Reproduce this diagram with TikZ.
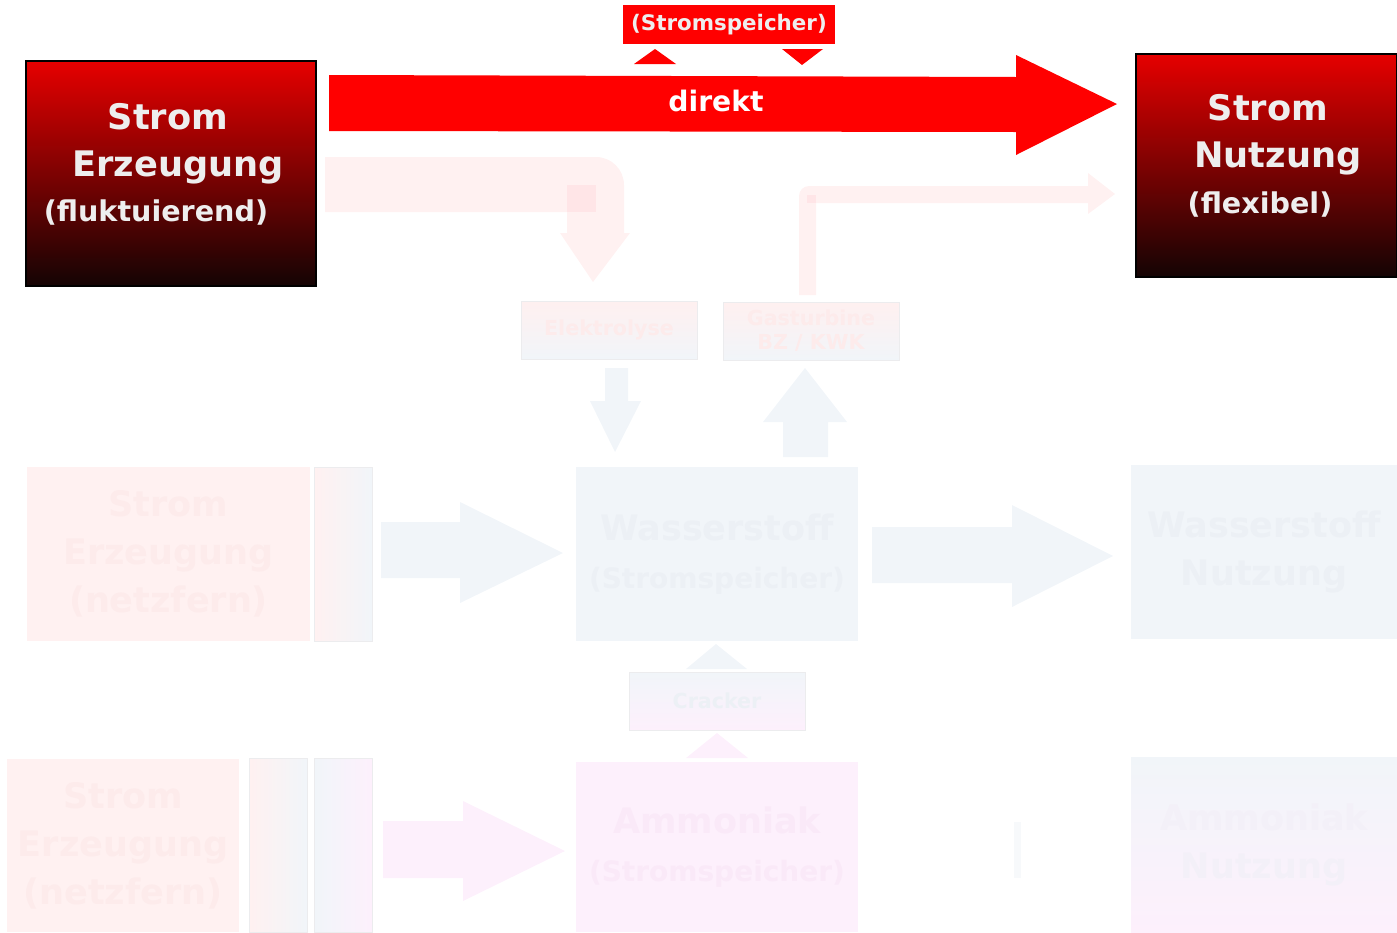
\documentclass[tikz,border=0pt]{standalone}
\usepackage{fontspec}
\setmainfont{DejaVu Sans}
\usetikzlibrary{positioning}

\definecolor{hot}{HTML}{E60000}
\definecolor{coal}{HTML}{140404}
\definecolor{txtgray}{HTML}{EEEEEE}
\definecolor{fpink}{HTML}{FFF1F1}
\definecolor{fpinkdk}{HTML}{FFE5E7}
\definecolor{fblue}{HTML}{F1F5F9}
\definecolor{fmag}{HTML}{FDF0FC}
\definecolor{fline}{HTML}{ECECEE}
\definecolor{tpink}{HTML}{FDEBEB}
\definecolor{tblue}{HTML}{ECF0F5}
\definecolor{tmag}{HTML}{FAE9F8}

\newcommand\fparen[1]{{\fontsize{14}{24}\selectfont #1}}

\begin{document}
\begin{tikzpicture}[x=0.5pt,y=-0.5pt,
  genbox/.style={draw=black,line width=0.6pt,top color=hot,bottom color=coal,inner sep=0pt},
  bigtxt/.style={text=txtgray,font=\bfseries\fontsize{17.6}{20}\selectfont},
  midtxt/.style={text=txtgray,font=\bfseries\fontsize{14.3}{16}\selectfont},
  fbox/.style={inner sep=0pt,font=\bfseries\fontsize{17.5}{24}\selectfont,align=center},
  fsmall/.style={draw=fline,line width=0.4pt,inner sep=0pt,minimum width=88pt,minimum height=29pt,
    font=\bfseries\fontsize{10.3}{12}\selectfont,align=center},
  fnarrow/.style={draw=fline,line width=0.4pt,inner sep=0pt,minimum width=29pt,minimum height=87pt}]
  \useasboundingbox (0,0) rectangle (1397,932);

  % faded part (later build steps)
  \fill[fpink] (325,157) [rounded corners=14pt] -- (624,157) [sharp corners] -- (624,233) -- (630,233)
    -- (593,282) -- (560,233) -- (567,233) -- (567,212) -- (325,212) -- cycle;
  \fill[fpinkdk] (567,185) rectangle (596,212);
  \fill[fpink] (816,295) -- (799,295) [rounded corners=5pt] -- (799,186) [sharp corners] -- (1088,186)
    -- (1088,173) -- (1115,194) -- (1088,214) -- (1088,203) -- (816,203) -- cycle;
  \fill[fpinkdk] (807,195) rectangle (816,203);

  \node[fsmall,top color=fpink!80!tpink,bottom color=fblue,text=tpink] (elk) at (609,330) {Elektrolyse};
  \node[fsmall,top color=fpink!80!tpink,bottom color=fblue,text=tpink] (gt) at (811,331) {Gasturbine\\BZ / KWK};

  \fill[fblue] (605,368) -- (628,368) -- (628,401) -- (641,401) -- (615,452) -- (590,401) -- (605,401) -- cycle;
  \fill[fblue] (783,457) -- (783,422) -- (763,422) -- (805,368) -- (847,422) -- (828,422) -- (828,457) -- cycle;

  \node[fbox,fill=fpink,text=tpink,minimum width=141.5pt,minimum height=87pt] (gen2) at (168.5,554)
    {Strom\\Erzeugung\\(netzfern)};
  \node[fnarrow,left color=fpink,right color=fblue] (elz2) at (343,554) {};
  \fill[fblue] (381,522) -- (460,522) -- (460,502) -- (563,553) -- (460,603) -- (460,578) -- (381,578) -- cycle;
  \node[fbox,fill=fblue,text=tblue,minimum width=141pt,minimum height=87pt] (h2) at (717,554)
    {Wasserstoff\\\fparen{(Stromspeicher)}};
  \fill[fblue] (872,527) -- (1012,527) -- (1012,505) -- (1113,556) -- (1012,607) -- (1012,583) -- (872,583) -- cycle;
  \node[fbox,fill=fblue,text=tblue,minimum width=133pt,minimum height=87pt] (h2use) at (1264,552)
    {Wasserstoff\\Nutzung};

  \fill[fblue] (686,669) -- (716,644) -- (747,669) -- cycle;
  \node[fsmall,top color=fblue,bottom color=fmag,text=tblue] (crk) at (717,701) {Cracker};
  \fill[fmag] (686,758) -- (717,733) -- (748,758) -- cycle;

  \node[fbox,fill=fpink,text=tpink,minimum width=116pt,minimum height=86.5pt] (gen3) at (123,845.5)
    {Strom\\Erzeugung\\(netzfern)};
  \node[fnarrow,left color=fpink,right color=fblue] (elz3) at (278.5,845) {};
  \node[fnarrow,left color=fblue,right color=fmag] (hb3) at (343,845) {};
  \fill[fmag] (383,821) -- (463,821) -- (463,801) -- (565,851) -- (463,901) -- (463,878) -- (383,878) -- cycle;
  \node[fbox,fill=fmag,text=tmag,minimum width=141pt,minimum height=85pt] (nh3) at (717,847)
    {Ammoniak\\\fparen{(Stromspeicher)}};
  \fill[fblue!60!white] (1014,822) rectangle (1021,878);
  \node[fbox,top color=fblue,bottom color=fmag,text=tblue!60!fmag,minimum width=133pt,minimum height=87.5pt] (nh3use)
    at (1264,844.5) {Ammoniak\\Nutzung};

  % current build step
  \node[genbox,minimum width=145pt,minimum height=112.5pt] (gen) at (171,173.5) {};
  \node[bigtxt] (genA) at (168,117) {Strom};
  \node[bigtxt] (genB) at (178,167) {Erzeugung};
  \node[midtxt] (genC) at (156,213) {(fluktuierend)};

  \node[genbox,minimum width=130.5pt,minimum height=111.5pt] (use) at (1266.5,165.5) {};
  \node[bigtxt] (useA) at (1268,108) {Strom};
  \node[bigtxt] (useB) at (1278,158) {Nutzung};
  \node[midtxt] (useC) at (1260,205) {(flexibel)};

  \fill[red] (329,75) -- (1016,77) -- (1016,55) -- (1117,104) -- (1016,155) -- (1016,132) -- (329,131) -- cycle;
  \node[text=white,font=\bfseries\fontsize{14.1}{16}\selectfont] (dir) at (716,101) {direkt};

  \node[fill=red,text=txtgray,inner sep=0pt,minimum width=106pt,minimum height=19.5pt,
    font=\bfseries\fontsize{10.7}{12}\selectfont] (store) at (729,24.5) {(Stromspeicher)};
  \fill[red] (634,64) -- (655,49) -- (676,64) -- cycle;
  \fill[red] (782,49) -- (823,49) -- (802,65) -- cycle;
\end{tikzpicture}
\end{document}
